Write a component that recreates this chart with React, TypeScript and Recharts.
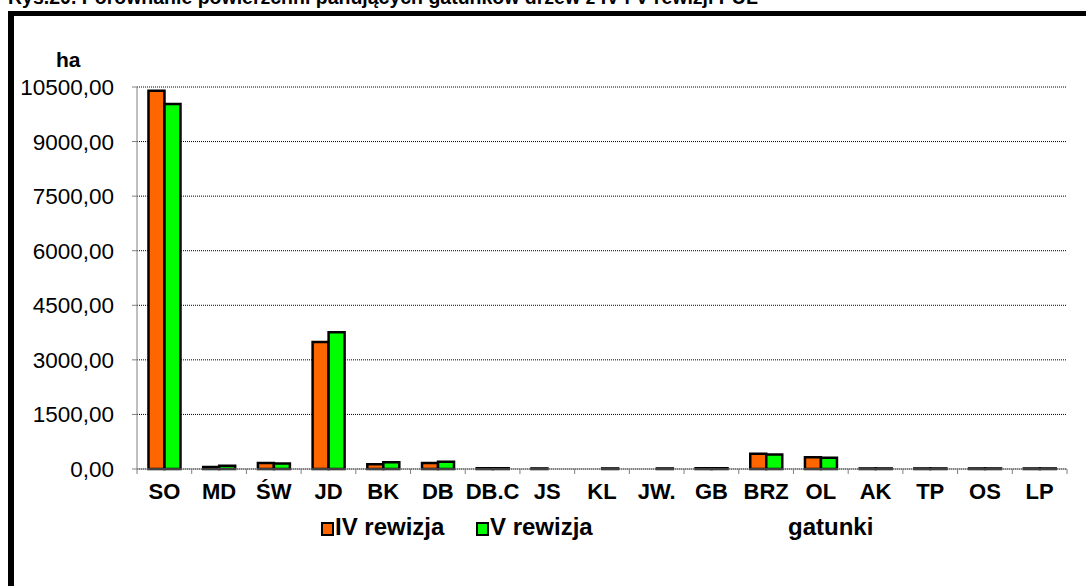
import { BarChart, Bar, XAxis, YAxis, CartesianGrid } from 'recharts'

const species = ['SO', 'MD', 'ŚW', 'JD', 'BK', 'DB', 'DB.C', 'JS', 'KL', 'JW.', 'GB', 'BRZ', 'OL', 'AK', 'TP', 'OS', 'LP']
const rev4 = [10400, 55, 165, 3490, 130, 165, 20, 15, 0, 0, 20, 420, 320, 15, 15, 15, 15]
const rev5 = [10030, 90, 150, 3760, 185, 200, 20, 0, 15, 15, 20, 400, 310, 15, 15, 15, 15]
const yTicks = [0, 1500, 3000, 4500, 6000, 7500, 9000, 10500]

const data = species.map((s, i) => ({ name: s, iv: rev4[i], v: rev5[i] }))

const FONT = 'Arial, "Liberation Sans", sans-serif'
const PLOT_LEFT = 137
const PLOT_RIGHT = 1067
const BAND = (PLOT_RIGHT - PLOT_LEFT) / species.length

function fmt(v: number): string {
  return v.toFixed(2).replace('.', ',')
}

function XTick({ x, y, payload, index }: any) {
  return (
    <g>
      <line x1={x - BAND / 2} x2={x - BAND / 2} y1={y - 8} y2={y - 3} stroke="#808080" />
      {index === species.length - 1 && (
        <line x1={x + BAND / 2} x2={x + BAND / 2} y1={y - 8} y2={y - 3} stroke="#808080" />
      )}
      <text x={x} y={y + 22} textAnchor="middle" fontSize={22} fontWeight="bold" fill="#000" fontFamily={FONT}>
        {payload.value}
      </text>
    </g>
  )
}

function LegendBox({ color }: { color: string }) {
  return (
    <span style={{
      display: 'inline-block', width: 9, height: 10, background: color,
      border: '2px solid #000', marginRight: 1, verticalAlign: 'middle',
    }} />
  )
}

export default function App() {
  return (
    <div style={{ position: 'absolute', left: 0, top: 0, width: 1086, height: 586, overflow: 'hidden', background: '#fff', fontFamily: FONT }}>
      <div style={{ position: 'absolute', left: 8, top: -12, fontSize: 19.5, fontWeight: 'bold', lineHeight: '19.5px', whiteSpace: 'nowrap' }}>
        Rys.20. Porównanie powierzchni panujących gatunków drzew z IV i V rewizji PUL
      </div>
      <div style={{ position: 'absolute', left: 8, top: 11, width: 1200, height: 700, borderLeft: '6px solid #000', borderTop: '5px solid #000' }} />
      <div style={{ position: 'absolute', left: 56, top: 48, fontSize: 21, fontWeight: 'bold' }}>ha</div>

      <div style={{ position: 'absolute', left: 0, top: 0 }}>
        <BarChart
          width={1086}
          height={586}
          data={data}
          margin={{ top: 87, right: 1086 - PLOT_RIGHT, bottom: 77, left: 0 }}
          barCategoryGap="21%"
          barGap={0}
        >
          <CartesianGrid horizontal vertical={false} stroke="#000" strokeDasharray="1 1" />
          <XAxis
            dataKey="name"
            height={40}
            tick={<XTick />}
            tickLine={false}
            axisLine={{ stroke: '#808080' }}
            interval={0}
          />
          <YAxis
            width={PLOT_LEFT}
            domain={[0, 10500]}
            ticks={yTicks}
            tickFormatter={fmt}
            tick={{ fontSize: 22.5, fill: '#000', fontFamily: FONT }}
            tickSize={5}
            tickMargin={18}
            tickLine={{ stroke: '#808080' }}
            axisLine={{ stroke: '#808080' }}
            interval={0}
          />
          <Bar dataKey="iv" fill="#FF6600" stroke="#000" strokeWidth={2.5} isAnimationActive={false} />
          <Bar dataKey="v" fill="#00FF00" stroke="#000" strokeWidth={2.5} isAnimationActive={false} />
        </BarChart>
      </div>

      <div style={{ position: 'absolute', left: 321, top: 513, fontSize: 24, fontWeight: 'bold', whiteSpace: 'nowrap' }}>
        <LegendBox color="#FF6600" />IV rewizja
      </div>
      <div style={{ position: 'absolute', left: 476, top: 513, fontSize: 24, fontWeight: 'bold', whiteSpace: 'nowrap' }}>
        <LegendBox color="#00FF00" />V rewizja
      </div>
      <div style={{ position: 'absolute', left: 788, top: 513, fontSize: 24, fontWeight: 'bold' }}>gatunki</div>
    </div>
  )
}
